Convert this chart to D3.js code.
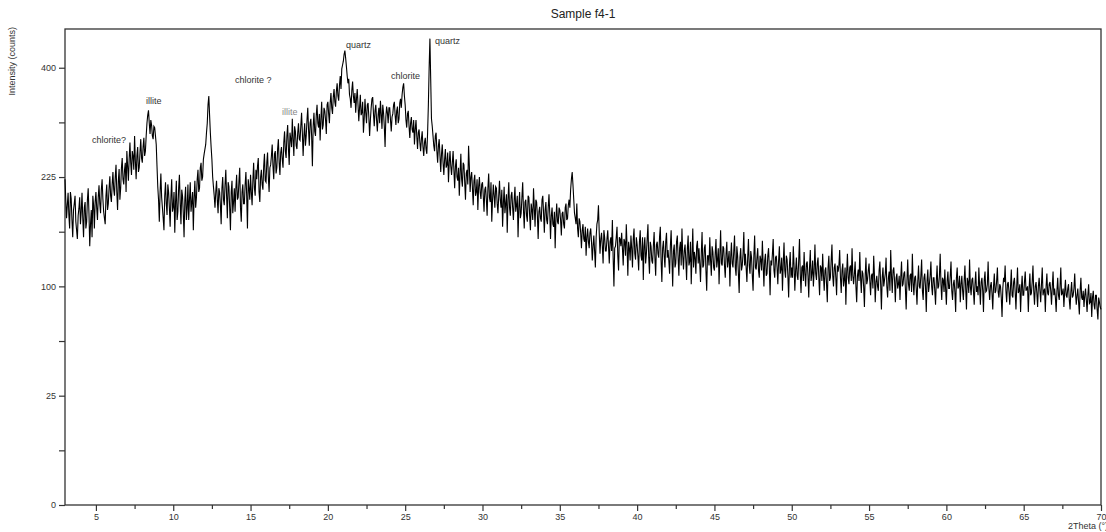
<!DOCTYPE html>
<html>
<head>
<meta charset="utf-8">
<script src="https://cdn.jsdelivr.net/npm/d3@7"></script>
<style>
  body { margin: 0; background: #fff; }
  text { font-family: "Liberation Sans", Arial, sans-serif; }
</style>
</head>
<body>
<div id="chart"></div>
<script>
// scan range (2theta, degrees), step 0.05
const scanStart = 3.0;
const scanEnd = 70.0;

// intensity (counts), one row per degree, 3.00 .. 70.00
const counts = [
  222,195,172,188,204,176,160,205,196,170,150,182,190,200,168,158,148,175,184,198,
  165,180,204,172,150,185,192,160,168,195,210,178,140,165,182,150,200,188,160,192,
  205,185,170,198,214,190,178,208,222,196,180,172,165,200,215,182,190,210,226,200,
  192,215,232,208,200,225,242,205,182,220,236,195,210,238,252,222,215,235,245,205,
  262,240,220,250,275,245,228,262,255,235,285,248,222,255,268,232,238,260,280,252,
  245,268,282,255,262,285,305,318,326,305,288,310,302,285,280,300,298,285,272,240,
  212,195,168,205,230,198,185,172,158,200,218,190,176,215,205,185,162,198,222,180,
  186,205,155,192,220,170,180,210,228,190,165,208,200,178,150,195,212,170,184,215,
  170,195,218,180,192,205,158,198,220,185,198,222,235,205,210,238,245,220,225,250,
  258,265,272,290,305,335,350,318,290,268,250,225,212,200,185,205,220,195,178,210,
  205,188,165,210,225,195,188,215,235,200,172,218,212,185,158,205,220,178,192,210,
  180,210,228,195,198,220,238,185,168,205,215,190,190,215,232,200,160,222,210,195,
  228,205,188,220,245,210,200,235,222,240,252,205,192,225,235,215,208,240,258,220,
  218,245,260,225,205,238,242,255,272,240,222,258,262,230,238,265,280,245,228,260,
  268,250,238,275,292,262,252,285,302,265,242,290,280,268,312,280,255,300,292,270,
  265,290,305,280,278,300,322,290,255,285,305,270,285,310,330,295,270,305,312,285,
  240,300,322,292,285,318,335,305,298,320,278,312,340,295,302,330,325,310,288,335,
  340,320,305,338,355,330,320,348,362,340,332,358,372,350,342,368,385,362,398,405,
  412,425,432,418,402,385,372,380,352,345,330,360,375,350,338,355,322,345,362,335,
  308,330,352,318,322,340,290,312,345,322,305,335,338,315,285,310,330,345,348,320,
  300,325,335,310,292,318,330,305,342,320,296,335,322,300,268,315,332,322,305,330,
  330,310,292,315,320,335,340,318,302,325,332,305,312,338,345,330,352,365,372,350,
  335,310,298,320,325,300,282,305,315,295,290,310,272,295,310,285,265,290,295,275,
  262,280,292,268,255,275,282,265,258,290,335,400,455,380,312,300,285,270,262,285,
  290,262,245,270,280,255,232,258,272,245,228,250,265,238,242,260,218,245,262,240,
  228,245,262,235,210,240,250,225,220,238,200,230,258,222,212,245,242,218,195,230,
  235,215,270,240,205,225,232,210,188,220,228,200,205,222,182,212,225,205,196,215,
  218,200,180,208,212,195,175,210,230,198,192,218,168,195,215,200,185,212,210,190,
  178,200,220,195,185,208,162,190,212,178,190,202,155,195,218,185,175,200,205,185,
  170,195,212,180,188,200,150,185,205,172,178,198,218,182,160,192,195,175,168,200,
  198,175,158,190,182,170,210,185,162,195,192,175,148,180,186,172,168,195,200,178,
  155,182,192,170,165,185,202,178,148,175,185,165,162,180,138,172,190,168,165,185,
  182,170,152,178,180,165,160,185,190,170,172,188,195,185,208,222,232,215,196,178,
  172,165,190,160,150,172,168,155,138,158,165,148,145,162,130,150,160,145,138,155,
  160,145,125,140,152,135,118,150,165,170,188,155,132,148,155,140,122,158,150,135,
  135,148,158,140,122,145,150,135,170,128,100,138,140,150,162,130,115,150,148,140,
  155,138,120,148,145,130,165,140,110,145,138,125,152,138,118,148,160,132,126,150,
  142,130,115,145,158,130,125,150,106,140,150,122,132,148,165,128,112,145,140,125,
  122,140,156,128,110,142,145,132,128,150,162,125,104,138,146,130,118,145,155,128,
  136,125,112,140,158,128,100,135,142,118,122,145,152,128,110,138,145,120,160,130,
  116,135,142,125,106,138,152,120,124,145,102,130,160,118,134,128,112,140,146,122,
  138,122,104,132,156,118,120,138,142,115,96,130,130,120,150,125,110,140,134,118,
  115,132,148,118,126,138,102,130,158,122,120,140,138,120,108,132,145,118,126,135,
  100,128,144,122,118,135,152,118,110,140,130,112,94,128,138,115,120,132,156,120,
  132,118,104,128,148,120,112,135,128,110,96,130,152,118,116,128,138,115,108,130,
  126,115,146,122,100,125,132,110,112,130,138,118,92,125,120,132,148,115,108,128,
  130,118,102,125,140,112,116,128,96,122,144,115,108,130,126,110,90,120,134,108,
  118,108,140,120,96,115,128,110,106,125,148,112,94,118,120,105,134,112,100,122,
  124,110,90,118,136,105,112,125,100,115,142,112,106,122,128,108,92,120,118,105,
  132,110,96,115,118,102,86,118,130,105,108,125,142,110,100,118,122,108,92,120,
  114,120,136,108,94,115,122,100,106,118,84,112,132,108,102,118,120,105,138,110,
  102,112,124,100,86,110,116,105,134,108,94,115,112,100,82,110,128,102,106,115,
  122,105,92,110,112,98,130,110,86,104,110,100,96,115,124,102,80,108,118,100,
  106,112,128,100,90,108,114,96,136,110,94,115,118,105,86,108,112,98,102,110,
  88,108,124,100,102,112,114,98,80,105,126,102,96,110,112,95,132,104,92,108,
  110,98,84,105,120,100,98,110,126,96,88,108,112,100,78,105,116,95,102,110,
  124,100,92,108,108,96,84,105,120,98,100,110,132,102,88,108,106,95,116,98,
  84,105,114,98,98,110,124,96,88,102,106,95,78,108,118,98,100,110,86,102,
  110,96,88,105,120,98,80,108,104,94,126,100,92,106,108,96,84,102,114,95,
  100,92,118,100,84,104,108,96,78,106,114,95,96,102,124,98,88,100,104,94,
  80,100,112,94,96,105,118,95,90,102,100,90,74,98,108,104,120,96,86,102,
  104,95,84,100,116,92,90,104,108,95,80,100,118,94,96,102,78,98,110,92,
  92,104,114,96,98,100,78,98,112,92,94,104,120,96,84,100,104,94,82,100,
  108,96,86,102,118,92,96,98,78,100,112,94,92,102,104,96,84,100,114,92,
  98,90,78,96,108,92,88,100,118,92,94,98,82,95,106,92,90,98,102,88,
  80,95,104,90,92,98,112,94,84,92,98,86,76,96,108,90,88,96,82,92,
  98,88,78,92,102,85,86,94,74,90,96,84,80,92,92,80,72,90,86,82,
  80
];

// axis ticks
const xTicks = [5,10,15,20,25,30,35,40,45,50,55,60,65,70];
const xMinorTicks = [7.5,12.5,17.5,22.5,27.5,32.5,37.5,42.5,47.5,52.5,57.5,62.5,67.5];
const yTicks = [0,25,100,225,400];
const yMinorTicks = [6.25,56.25,156.25,306.25];

// phase labels
const peakNames = ["chlorite?","illite","chlorite ?","illite","quartz","chlorite","quartz"];
const peakTheta = [4.75,8.24,14.0,17.03,21.17,24.08,26.93];
const peakCounts = [274,337,373,319,436,380,445];
const peakColors = ["#333","#333","#333","#888","#333","#333","#333"];

const svgWidth = 1106, svgHeight = 532;
const margin = {top: 29, left: 65, bottom: 27, right: 5};
const width = svgWidth - margin.left - margin.right;
const height = svgHeight - margin.top - margin.bottom;

const scanStep = (scanEnd - scanStart) / (counts.length - 1);
const data = counts.map((c, i) => [scanStart + i * scanStep, c]);

const svg = d3.select("#chart").append("svg")
  .attr("width", svgWidth)
  .attr("height", svgHeight)
  .append("g")
  .attr("transform", "translate(" + margin.left + "," + margin.top + ")");

const xScale = d3.scaleLinear().domain([3, 70]).range([0, width]);
const yScale = d3.scaleSqrt().domain([0, 474]).range([height, 0]);

// frame
svg.append("rect")
  .attr("width", width).attr("height", height)
  .attr("fill", "none").attr("stroke", "#333").attr("stroke-width", 1.3);

// x axis
svg.append("g")
  .attr("transform", "translate(0," + height + ")")
  .call(d3.axisBottom(xScale).tickValues(xTicks).tickSize(6).tickPadding(3));
svg.append("g")
  .attr("transform", "translate(0," + height + ")")
  .call(d3.axisBottom(xScale).tickValues(xMinorTicks).tickSize(4).tickFormat(""));

// y axis
svg.append("g")
  .call(d3.axisLeft(yScale).tickValues(yTicks).tickSize(6).tickPadding(3));
svg.append("g")
  .call(d3.axisLeft(yScale).tickValues(yMinorTicks).tickSize(6).tickFormat(""));

svg.selectAll(".domain").remove();
svg.selectAll(".tick line").attr("stroke", "#333").attr("stroke-width", 1.2);
svg.selectAll(".tick text")
  .style("font-size", "9px")
  .style("font-family", "Liberation Sans, Arial, sans-serif")
  .attr("fill", "#333");

// pattern
const line = d3.line()
  .x(d => xScale(d[0]))
  .y(d => yScale(d[1]));

svg.append("path")
  .datum(data)
  .attr("fill", "none")
  .attr("stroke", "#000")
  .attr("stroke-width", 1.1)
  .attr("d", line);

// peak labels
svg.selectAll(".peak")
  .data(peakNames)
  .enter()
  .append("text")
  .attr("x", (d, i) => xScale(peakTheta[i]))
  .attr("y", (d, i) => yScale(peakCounts[i]))
  .attr("fill", (d, i) => peakColors[i])
  .style("font-size", "9px")
  .text(d => d);

// title and axis titles
svg.append("text")
  .attr("x", width / 2)
  .attr("y", -11)
  .attr("text-anchor", "middle")
  .style("font-size", "12px")
  .attr("fill", "#222")
  .text("Sample f4-1");

svg.append("text")
  .attr("transform", "translate(" + (-50) + ",-2) rotate(-90)")
  .attr("text-anchor", "end")
  .style("font-size", "9px")
  .attr("fill", "#333")
  .text("Intensity (counts)");

svg.append("text")
  .attr("x", width - 33)
  .attr("y", height + 24)
  .style("font-size", "9px")
  .attr("fill", "#333")
  .text("2Theta (°)");
</script>
</body>
</html>
